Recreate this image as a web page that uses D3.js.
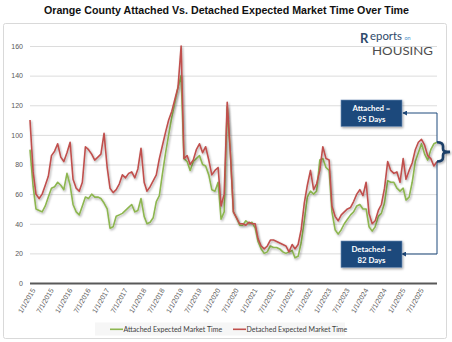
<!DOCTYPE html>
<html>
<head>
<meta charset="utf-8">
<script src="https://cdn.jsdelivr.net/npm/d3@7"></script>
<style>
  body { margin: 0; background: #fff; }
  svg { display: block; font-family: Lato, "Open Sans", sans-serif; }
  .title { font-family: "Liberation Sans", Arial, sans-serif; font-weight: bold; font-size: 10.5px; fill: #111; }
  .grid line { stroke: #dcdcdc; stroke-width: 1; }
  .grid text { fill: #595959; font-size: 7px; }
  .axis--x text { fill: #595959; font-size: 7px; }
  .legend text { fill: #404040; font-size: 7px; }
  .callout text { fill: #fff; font-size: 7.8px; font-weight: bold; }
</style>
</head>
<body>
<svg width="452" height="342"></svg>
<script>
// monthly readings, jan 2015 .. jan 2026
let attached = [
  90, 65, 50, 49, 48, 52, 58, 64, 65, 68, 66, 63,
  74, 66, 53, 48, 46, 52, 58, 57, 60, 58, 58, 57,
  54, 50, 37, 38, 45, 46, 47, 49, 51, 53, 48, 49,
  57, 45, 40, 41, 44, 55, 59, 74, 88, 100, 112, 122,
  132, 140, 84, 82, 76, 82, 84, 86, 80, 79, 73, 63,
  62, 68, 43, 48, 119, 88, 48, 44, 39, 39, 42, 40,
  41, 37, 28, 23, 20, 21, 25, 24, 24, 23, 21, 20,
  21, 22, 17, 18, 27, 42, 58, 62, 60, 62, 83, 84,
  78, 76, 48, 36, 33, 36, 40, 43, 46, 48, 52, 53,
  50, 50, 38, 35, 38, 45, 47, 54, 69, 68, 68, 64,
  62, 64, 56, 58, 68, 82, 88, 94, 87, 83, 90, 94,
  95
];
let detached = [
  110, 75, 60, 57, 60, 66, 72, 86, 89, 94, 85, 82,
  88, 95, 70, 64, 62, 68, 92, 90, 87, 83, 85, 87,
  101, 78, 64, 61, 63, 67, 73, 71, 74, 75, 71, 77,
  91, 68, 62, 65, 69, 73, 84, 93, 102, 110, 116, 124,
  132, 160, 84, 86, 80, 83, 90, 94, 88, 92, 83, 73,
  76, 78, 52, 60, 122, 88, 48, 44, 40, 40, 39, 41,
  40, 40, 30, 25, 23, 25, 29, 29, 28, 27, 26, 25,
  21, 26, 23, 26, 36, 54, 66, 76, 63, 67, 76, 92,
  84, 83, 52, 45, 42, 46, 48, 50, 51, 55, 60, 63,
  59, 68, 47, 40, 42, 49, 53, 64, 82, 76, 74, 75,
  68, 84, 70, 76, 81, 90, 95, 97, 93, 86, 84, 79,
  82
];
let months = d3.timeMonth.range(new Date(2015, 0, 1), new Date(2026, 1, 1));
let yTicks = [0, 20, 40, 60, 80, 100, 120, 140, 160];
let seriesNames = ["Attached Expected Market Time", "Detached Expected Market Time"];
let seriesColors = ["#8db650", "#c0504d"];
let calloutText = [["Attached =", "95 Days"], ["Detached =", "82 Days"]];

let svg = d3.select("svg"),
  margin = { top: 46, right: 15, bottom: 59, left: 30 },
  width = +svg.attr("width") - margin.left - margin.right,
  height = +svg.attr("height") - margin.top - margin.bottom;

let x = d3.scaleTime().domain([months[0], months[months.length - 1]]).range([0, width]),
  y = d3.scaleLinear().domain([0, 160]).range([height, 0]);

let defs = svg.append("defs");
defs.append("filter").attr("id", "shadow")
  .attr("x", "-10%").attr("y", "-10%").attr("width", "130%").attr("height", "130%")
  .append("feDropShadow")
  .attr("dx", 1).attr("dy", 1.3).attr("stdDeviation", 0.8)
  .attr("flood-color", "#000").attr("flood-opacity", 0.35);
defs.append("marker").attr("id", "arrow")
  .attr("viewBox", "0 0 6 6").attr("refX", 5).attr("refY", 3)
  .attr("markerWidth", 5).attr("markerHeight", 5).attr("orient", "auto")
  .append("path").attr("d", "M0,0 L6,3 L0,6 Z").attr("fill", "#1f4a7c");

// outer frame of the chart
svg.append("rect")
  .attr("x", 3.5).attr("y", 23.5).attr("width", 443).attr("height", 315)
  .attr("rx", 2).attr("fill", "none").attr("stroke", "#d9d9d9");

svg.append("text").attr("class", "title")
  .attr("x", 226.5).attr("y", 14).attr("text-anchor", "middle")
  .attr("textLength", 365).attr("lengthAdjust", "spacingAndGlyphs")
  .text("Orange County Attached Vs. Detached Expected Market Time Over Time");

// logo
let logo = svg.append("g");
logo.append("text").attr("x", 360).attr("y", 43).attr("font-size", 13).attr("font-weight", "bold")
  .attr("fill", "#2f4a6b").text("R");
logo.append("text").attr("x", 370).attr("y", 40).attr("font-size", 11).attr("fill", "#2f4a6b")
  .attr("textLength", 32).attr("lengthAdjust", "spacingAndGlyphs").text("eports");
logo.append("text").attr("x", 404.5).attr("y", 40).attr("font-size", 5.5).attr("fill", "#4a90c8").text("on");
logo.append("text").attr("x", 372).attr("y", 54.5).attr("font-size", 12).attr("fill", "#4d4d4d")
  .attr("textLength", 61).attr("lengthAdjust", "spacingAndGlyphs").text("HOUSING");

let chart = svg.append("g")
  .attr("transform", "translate(" + margin.left + "," + margin.top + ")");

// horizontal gridlines + y labels
let grid = chart.append("g").attr("class", "grid")
  .call(d3.axisLeft(y).tickValues(yTicks).tickSize(-width).tickPadding(7));
grid.select(".domain").remove();
grid.selectAll(".tick line").filter(function (d) { return d === 0; })
  .style("stroke", "#595959").style("stroke-width", 2);

// bottom axis, rotated date labels
let tickDates = months.filter(function (d, i) { return i % 6 === 0 && i < months.length - 1; });
let xAxis = chart.append("g")
  .attr("class", "axis axis--x")
  .attr("transform", "translate(0," + height + ")")
  .call(d3.axisBottom(x).tickValues(tickDates).tickSize(0)
    .tickFormat(function (d) { return (d.getMonth() + 1) + "/" + d.getDate() + "/" + d.getFullYear(); }));
xAxis.select(".domain").remove();
xAxis.selectAll("text")
  .attr("y", 0).attr("dy", "0.35em")
  .attr("transform", "translate(3,6) rotate(-60)")
  .style("text-anchor", "end");

// lines
let line = d3.line()
  .x(function (d, i) { return x(months[i]); })
  .y(function (d) { return y(d); });

[attached, detached].forEach(function (s, k) {
  chart.append("path")
    .datum(s)
    .attr("fill", "none")
    .attr("stroke", seriesColors[k])
    .attr("stroke-width", 1.6)
    .attr("stroke-linejoin", "round")
    .attr("filter", "url(#shadow)")
    .attr("d", line);
});

// callouts for the latest values
let last = months.length - 1,
  topY = margin.top + y(attached[last]),
  botY = margin.top + y(detached[last]),
  bx = margin.left + width;

let brace = svg.append("g").attr("filter", "url(#shadow)");
let midY = (topY + botY) / 2;
brace.append("path")
  .attr("d", "M" + bx + "," + topY +
    " Q" + (bx + 6) + "," + topY + " " + (bx + 6) + "," + (topY + 4) +
    " L" + (bx + 6) + "," + (midY - 3) +
    " Q" + (bx + 6) + "," + midY + " " + (bx + 13) + "," + midY +
    " Q" + (bx + 6) + "," + midY + " " + (bx + 6) + "," + (midY + 3) +
    " L" + (bx + 6) + "," + (botY - 4) +
    " Q" + (bx + 6) + "," + botY + " " + bx + "," + botY)
  .attr("fill", "none").attr("stroke", "#1f3f68").attr("stroke-width", 2.6);

svg.append("path")
  .attr("d", "M" + bx + "," + topY + " L" + bx + ",113 L403,113")
  .attr("fill", "none").attr("stroke", "#1f4a7c").attr("marker-end", "url(#arrow)");
svg.append("path")
  .attr("d", "M" + bx + "," + botY + " L" + bx + ",254 L402,254")
  .attr("fill", "none").attr("stroke", "#1f4a7c").attr("marker-end", "url(#arrow)");

[100, 241].forEach(function (top, k) {
  let g = svg.append("g").attr("class", "callout");
  g.append("rect")
    .attr("x", 341).attr("y", top).attr("width", 61).attr("height", 26.5)
    .attr("fill", "#1f4a7c").attr("stroke", "#6f8fb8").attr("stroke-width", 0.6)
    .attr("filter", "url(#shadow)");
  g.append("text").attr("x", 371.5).attr("y", top + 11).attr("text-anchor", "middle").text(calloutText[k][0]);
  g.append("text").attr("x", 371.5).attr("y", top + 22).attr("text-anchor", "middle").text(calloutText[k][1]);
});

// legend
let legend = svg.append("g").attr("class", "legend");
legend.append("rect")
  .attr("x", 95).attr("y", 322.5).attr("width", 250).attr("height", 13)
  .attr("fill", "#f6f6f6");
[110, 233].forEach(function (lx, k) {
  legend.append("line")
    .attr("x1", lx).attr("x2", lx + 13).attr("y1", 329.3).attr("y2", 329.3)
    .attr("stroke", seriesColors[k]).attr("stroke-width", 1.6);
  legend.append("text").attr("x", lx + 13.5).attr("y", 331.8).text(seriesNames[k]);
});
</script>
</body>
</html>
